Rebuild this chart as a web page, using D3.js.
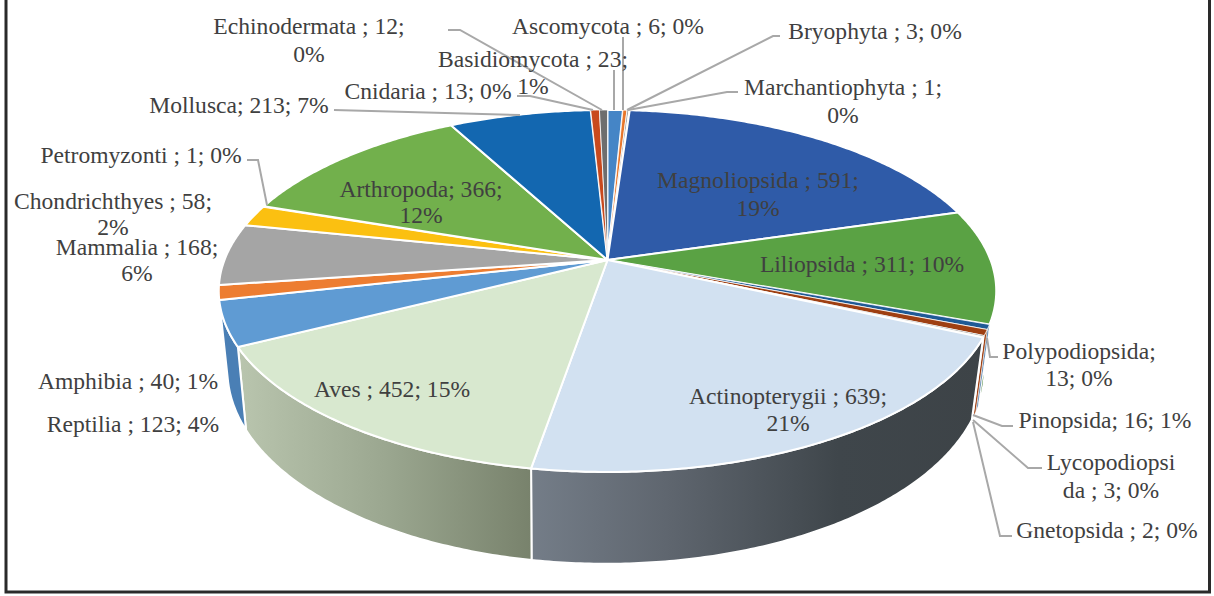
<!DOCTYPE html>
<html><head><meta charset="utf-8">
<script src="https://cdn.jsdelivr.net/npm/d3@7/dist/d3.min.js"></script>
<style>html,body{margin:0;padding:0;background:#fff}svg{display:block}text{font-family:"Liberation Serif",serif;font-size:23.6px;fill:#404040;text-anchor:middle}</style>
</head><body><svg id="c" width="1214" height="596"></svg>
<script>
const names=["Basidiomycota","Ascomycota","Bryophyta","Marchantiophyta","Magnoliopsida","Liliopsida","Polypodiopsida","Pinopsida","Lycopodiopsida","Gnetopsida","Actinopterygii","Aves","Reptilia","Amphibia","Mammalia","Chondrichthyes","Petromyzonti","Arthropoda","Mollusca","Cnidaria","Echinodermata"];
const values=[23,6,3,1,591,311,13,16,3,2,639,452,123,40,168,58,1,366,213,13,12];
const topColors=["#4585c6","#e8772c","#a5a5a5","#ffc000","#2f5ba8","#5aa244","#1f5a96","#9e3f12","#636363","#997300","#d2e1f1","#d8e8cf","#5f9bd3","#ed7d31","#a5a5a5","#fbc011","#2f5ba8","#72b04c","#1367b0","#c8491d","#6e6e6e"];
const wallColors={Liliopsida:"#3f7a30",Polypodiopsida:"#1f5a96",Pinopsida:"#9e3f12",Lycopodiopsida:"#636363",Gnetopsida:"#997300",Reptilia:"#4a7fb5"};
const labelLines=[
 ["Echinodermata ; 12;",309,34],["0%",309,62],
 ["Ascomycota ; 6; 0%",608,34],["Bryophyta ; 3; 0%",875,39],
 ["Basidiomycota ; 23;",533,67],["1%",533,94],
 ["Marchantiophyta ; 1;",843,95],["0%",843,123],
 ["Cnidaria ; 13; 0%",428,99],["Mollusca; 213; 7%",239,113],
 ["Magnoliopsida ; 591;",758,188],["19%",758,216],
 ["Petromyzonti ; 1; 0%",141,163],
 ["Arthropoda; 366;",421,197],["12%",421,223],
 ["Chondrichthyes ; 58;",113,209],["2%",113,235],
 ["Mammalia ; 168;",137,255],["6%",137,281],
 ["Liliopsida ; 311; 10%",862,272],
 ["Polypodiopsida;",1079,359],["13; 0%",1079,386],
 ["Amphibia ; 40; 1%",128,389],["Aves ; 452; 15%",392,397],
 ["Actinopterygii ; 639;",788,404],["21%",788,431],
 ["Reptilia ; 123; 4%",133,432],["Pinopsida; 16; 1%",1105,428],
 ["Lycopodiopsi",1111,470],["da ; 3; 0%",1111,498],["Gnetopsida ; 2; 0%",1107,538]
];
const leaders=[
 [[623,37],[623,110]],[[614,70],[614,110]],
 [[780,36],[773,36],[627,110]],[[738,92],[727,92],[628,110]],
 [[448,30],[460,30],[602,110]],[[517,96],[530,96],[593,110]],
 [[334,110],[520,115]],[[247,160],[258,160],[267,205]],
 [[998,357],[990,357],[987,338]],[[1013,426],[1002,426],[973,415]],
 [[1042,468],[1028,468],[973,420]],[[1012,536],[1000,536],[973,422]]
];
const svg=d3.select("#c");
const k=0.171;
const topP={cx:607.5,cy:260,R:383,S:175.7};
const botP={cx:606,cy:337,R:373,S:188};
const proj=(p,a)=>{const u=Math.sin(a),v=Math.cos(a),d=1+k*v;return [p.cx+p.R*u/d,p.cy-p.S*v/d];};
const arcPts=(p,a0,a1)=>{const n=Math.max(2,Math.ceil(Math.abs(a1-a0)/0.01));return d3.range(n+1).map(i=>proj(p,a0+(a1-a0)*i/n));};
const pie=d3.pie().sort(null).value(d=>d.value).startAngle(0).endAngle(2*Math.PI);
const slices=pie(names.map((n,i)=>({name:n,value:values[i],color:topColors[i]})));
const line=d3.line();
const defs=svg.append("defs");
const grad=(id,stops)=>{const g=defs.append("linearGradient").attr("id",id);stops.forEach(s=>g.append("stop").attr("offset",s[0]).attr("stop-color",s[1]));};
grad("gAct",[[0,"#747d88"],[0.3,"#5f666f"],[0.68,"#3f464b"],[1,"#3d4347"]]);
grad("gAve",[[0,"#b9c5ae"],[0.5,"#9ba790"],[1,"#78826c"]]);
wallColors.Actinopterygii="url(#gAct)";wallColors.Aves="url(#gAve)";
svg.append("rect").attr("width",1214).attr("height",596).attr("fill","#fff");
svg.append("rect").attr("x",6).attr("y",-4).attr("width",1203.5).attr("height",596).attr("fill","none").attr("stroke","#2a2a2a").attr("stroke-width",3);
const Lim=[Math.PI*0.5,Math.PI*1.6];
const walls=slices.filter(s=>wallColors[s.data.name]);
svg.append("g").selectAll("path").data(walls).join("path")
 .attr("d",s=>{const a0=Math.max(s.startAngle,Lim[0]),a1=Math.min(s.endAngle,Lim[1]);
   return line(arcPts(topP,a0,a1).concat(arcPts(botP,a0,a1).reverse()))+"Z";})
 .attr("fill",s=>wallColors[s.data.name]).attr("stroke","#fff").attr("stroke-width",s=>s.value>100?2:0.6);
svg.append("g").selectAll("path").data(slices).join("path")
 .attr("d",s=>{const c=[topP.cx,topP.cy];return line([c].concat(arcPts(topP,s.startAngle,s.endAngle)))+"Z";})
 .attr("fill",s=>s.data.color).attr("stroke","#fff").attr("stroke-width",s=>s.value>=20?2:0.8).attr("stroke-linejoin","round");
svg.append("g").selectAll("path").data(leaders).join("path")
 .attr("d",d=>line(d)).attr("fill","none").attr("stroke","#a8a8a8").attr("stroke-width",2);
svg.append("g").selectAll("text").data(labelLines).join("text")
 .attr("x",d=>d[1]).attr("y",d=>d[2]).text(d=>d[0]);
</script></body></html>
